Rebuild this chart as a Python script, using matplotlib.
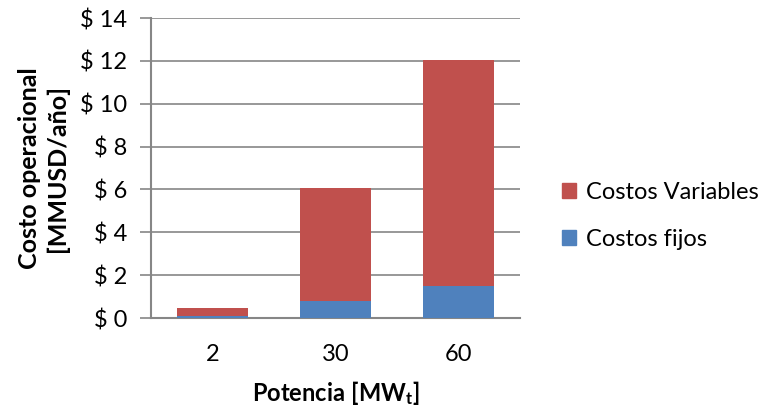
import matplotlib
matplotlib.use("Agg")
import matplotlib.pyplot as plt
from matplotlib.patches import Patch

categories = ["2", "30", "60"]
costos_fijos = [0.08, 0.78, 1.50]
costos_variables = [0.40, 5.30, 10.55]
y_ticks = [0, 2, 4, 6, 8, 10, 12, 14]
y_tick_labels = [f"$ {v}" for v in y_ticks]

FONT = "Lato"
plt.rcParams["font.family"] = [FONT, "DejaVu Sans"]
plt.rcParams["mathtext.fontset"] = "custom"
plt.rcParams["mathtext.bf"] = f"{FONT}:bold"
plt.rcParams["mathtext.rm"] = f"{FONT}:bold"
plt.rcParams["mathtext.it"] = f"{FONT}:bold"

RED = "#C0504D"
BLUE = "#4F81BD"
GRAY = "#868686"

fig = plt.figure(figsize=(7.65, 4.11), dpi=100)
ax = fig.add_axes([151 / 765, 1 - 318 / 411, (520 - 151) / 765, 300 / 411])

x = range(len(categories))
ax.bar(x, costos_fijos, width=0.57, color=BLUE, zorder=3, label="Costos fijos")
ax.bar(x, costos_variables, width=0.57, bottom=costos_fijos, color=RED, zorder=3,
       label="Costos Variables")

ax.set_xlim(-0.5, 2.5)
ax.set_ylim(0, 14)
ax.set_yticks(y_ticks)
ax.set_yticklabels(y_tick_labels)
ax.set_xticks(list(x))
ax.set_xticklabels(categories)

ax.grid(axis="y", color=GRAY, linewidth=1.2, zorder=0)
for side in ["top", "right"]:
    ax.spines[side].set_visible(False)
for side in ["left", "bottom"]:
    ax.spines[side].set_color(GRAY)
    ax.spines[side].set_linewidth(1.5)

ax.tick_params(axis="y", length=8, width=1.2, color=GRAY, pad=9, labelsize=17)
ax.tick_params(axis="x", length=0, pad=19, labelsize=17)

ax.set_ylabel("Costo operacional\n[MMUSD/año]", fontsize=18, fontweight="bold",
              linespacing=1.25, labelpad=8)
ax.set_xlabel(r"$\mathbf{Potencia\ [MW_{t}]}$", fontsize=17, labelpad=10)

handles = [Patch(color=RED), Patch(color=BLUE)]
fig.legend(handles, ["Costos Variables", "Costos fijos"], loc="center left",
           bbox_to_anchor=(541 / 765, 1 - 216 / 411), frameon=False,
           fontsize=17, handlelength=0.6, handleheight=0.6, handletextpad=0.4,
           labelspacing=1.1)

fig.savefig("out.png", dpi=100)
